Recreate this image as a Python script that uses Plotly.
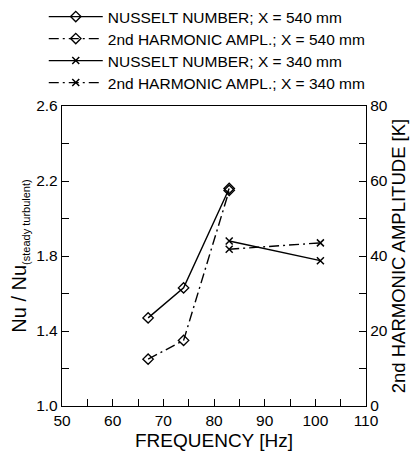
import plotly.graph_objects as go

freq_540 = [67, 74, 83]
nu_540 = [1.47, 1.63, 2.16]
amp_540 = [12.5, 17.5, 57.5]
freq_340 = [83, 101]
nu_340 = [1.88, 1.775]
amp_340 = [41.8, 43.5]

names = ["NUSSELT NUMBER; X = 540 mm", "2nd HARMONIC AMPL.; X = 540 mm",
         "NUSSELT NUMBER; X = 340 mm", "2nd HARMONIC AMPL.; X = 340 mm"]

font = "Liberation Sans, Arial, sans-serif"
DD = "10px,4px,2px,4px"
fig = go.Figure()
fig.add_trace(go.Scatter(x=freq_540, y=nu_540, name=names[0], mode="lines+markers", legend="legend",
                         line=dict(color="black", width=1.4),
                         marker=dict(symbol="diamond-open", size=8, color="black", line=dict(width=1.4))))
fig.add_trace(go.Scatter(x=freq_540, y=amp_540, name=names[1], yaxis="y2", mode="lines+markers", legend="legend2",
                         line=dict(color="black", width=1.4, dash=DD),
                         marker=dict(symbol="diamond-open", size=8, color="black", line=dict(width=1.4))))
fig.add_trace(go.Scatter(x=freq_340, y=nu_340, name=names[2], mode="lines+markers", legend="legend3",
                         line=dict(color="black", width=1.4),
                         marker=dict(symbol="x-thin-open", size=7, color="black", line=dict(width=1.5))))
fig.add_trace(go.Scatter(x=freq_340, y=amp_340, name=names[3], yaxis="y2", mode="lines+markers", legend="legend4",
                         line=dict(color="black", width=1.4, dash=DD),
                         marker=dict(symbol="x-thin-open", size=7, color="black", line=dict(width=1.5))))

TF = 15.5
axis_common = dict(showline=True, linecolor="black", linewidth=1.3, showgrid=False, zeroline=False,
                   ticks="inside", ticklen=7, tickcolor="black", automargin=False,
                   tickfont=dict(size=TF, color="black", family=font))

row_px = [17, 39, 61, 83]
leg = {}
for i, yp in enumerate(row_px):
    key = "legend" if i == 0 else f"legend{i+1}"
    leg[key] = dict(x=-0.06, y=(406 - yp) / 300, xanchor="left", yanchor="middle", bgcolor="rgba(0,0,0,0)",
                    font=dict(size=15.5, family=font), itemwidth=54)

fig.update_layout(
    width=412, height=452,
    margin=dict(l=62, r=46, t=106, b=46, autoexpand=False),
    paper_bgcolor="white", plot_bgcolor="white",
    font=dict(family=font, color="black", size=15),
    xaxis=dict(range=[50, 110], tickvals=[50, 60, 70, 80, 90, 100, 110], mirror=True, ticklabelstandoff=0,
               minor=dict(dtick=5, ticks="inside", ticklen=7, tickcolor="black"),
               title=dict(text="FREQUENCY [Hz]", font=dict(size=19), standoff=5), **axis_common),
    yaxis=dict(range=[1.0, 2.6], tickvals=[1.0, 1.4, 1.8, 2.2, 2.6], ticktext=["1.0", "1.4", "1.8", "2.2", "2.6"],
               minor=dict(dtick=0.2, ticks="inside", ticklen=7, tickcolor="black"),
               title=dict(text="Nu / Nu<sub><span style='font-size:11px'>(steady turbulent)</span></sub>",
                          font=dict(size=20), standoff=4), **axis_common),
    yaxis2=dict(range=[0, 80], overlaying="y", side="right", tickvals=[0, 20, 40, 60, 80],
                minor=dict(dtick=10, ticks="inside", ticklen=7, tickcolor="black"),
                title=dict(text="2nd HARMONIC AMPLITUDE [K]", font=dict(size=18.5), standoff=4), **axis_common),
    showlegend=True,
    **leg,
)
fig.write_html("out.html")
